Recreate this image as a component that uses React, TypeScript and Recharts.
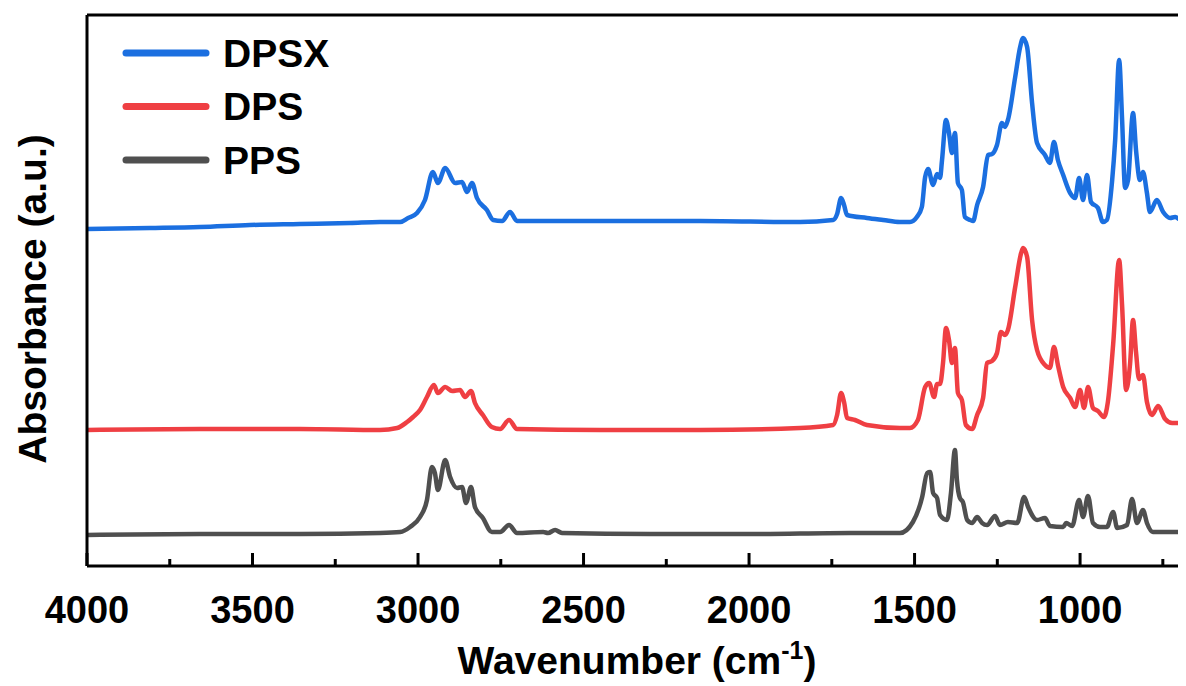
import React from 'react';
import { LineChart, Line, XAxis, YAxis, Legend, ReferenceLine } from 'recharts';

// Wavenumber axis ticks (cm-1)
const wavenumberTicks = [4000, 3750, 3500, 3250, 3000, 2750, 2500, 2250, 2000, 1750, 1500, 1250, 1000, 750];
const majorTicks = [4000, 3500, 3000, 2500, 2000, 1500, 1000];
const seriesNames = ['DPSX', 'DPS', 'PPS'];
const seriesColors = ['#1b6fe0', '#ef3f43', '#4f4f4f'];

// [wavenumber, absorbance (a.u., offset-stacked)]
const dpsx: [number, number][] = [
  [4000, 3.37], [3810, 3.38], [3659, 3.39], [3508, 3.41], [3357, 3.42], [3205, 3.43], [3115, 3.44], [3054, 3.44],
  [3030, 3.48], [3003, 3.53], [2979, 3.66], [2955, 3.94], [2940, 3.83], [2918, 3.98], [2888, 3.83], [2867, 3.84],
  [2852, 3.74], [2837, 3.83], [2822, 3.68], [2792, 3.56], [2773, 3.46], [2746, 3.45], [2722, 3.54], [2701, 3.45],
  [2571, 3.45], [2390, 3.45], [2148, 3.45], [1846, 3.44], [1746, 3.46], [1734, 3.52], [1722, 3.68], [1713, 3.61],
  [1704, 3.51], [1644, 3.48], [1595, 3.46], [1544, 3.44], [1514, 3.44], [1493, 3.49], [1478, 3.59], [1468, 3.89],
  [1459, 3.97], [1444, 3.81], [1432, 3.92], [1423, 3.88], [1417, 4.06], [1405, 4.46], [1396, 4.33], [1387, 4.13],
  [1378, 4.33], [1369, 3.83], [1357, 3.76], [1348, 3.49], [1332, 3.46], [1323, 3.45], [1311, 3.61], [1293, 3.79],
  [1278, 4.11], [1266, 4.12], [1251, 4.21], [1236, 4.43], [1227, 4.39], [1218, 4.46], [1196, 4.89], [1181, 5.19],
  [1172, 5.28], [1160, 5.19], [1145, 4.63], [1130, 4.23], [1106, 4.11], [1091, 4.03], [1079, 4.24], [1067, 4.06],
  [1051, 3.91], [1030, 3.73], [1015, 3.68], [1003, 3.88], [991, 3.66], [979, 3.91], [967, 3.64], [946, 3.58],
  [931, 3.44], [919, 3.46], [903, 3.86], [894, 4.26], [882, 5.06], [873, 4.46], [864, 3.78], [855, 3.86],
  [840, 4.53], [831, 4.16], [819, 3.86], [810, 3.94], [798, 3.73], [789, 3.54], [768, 3.66], [749, 3.54],
  [728, 3.48], [713, 3.49], [692, 3.45], [680, 3.44],
];

const dps: [number, number][] = [
  [4000, 1.36], [3659, 1.37], [3357, 1.37], [3115, 1.36], [3063, 1.38], [3033, 1.44], [3015, 1.49], [2994, 1.56],
  [2973, 1.69], [2952, 1.81], [2940, 1.73], [2918, 1.79], [2897, 1.75], [2873, 1.76], [2858, 1.69], [2840, 1.75],
  [2828, 1.63], [2804, 1.51], [2777, 1.39], [2752, 1.37], [2725, 1.46], [2701, 1.37], [2450, 1.36], [2148, 1.36],
  [1846, 1.38], [1746, 1.41], [1734, 1.51], [1722, 1.73], [1713, 1.64], [1704, 1.48], [1680, 1.46], [1644, 1.41],
  [1544, 1.38], [1514, 1.38], [1490, 1.46], [1468, 1.79], [1456, 1.83], [1441, 1.69], [1432, 1.82], [1423, 1.82],
  [1414, 2.03], [1405, 2.38], [1396, 2.26], [1387, 2.03], [1378, 2.18], [1369, 1.73], [1357, 1.66], [1345, 1.41],
  [1326, 1.37], [1311, 1.51], [1293, 1.68], [1281, 2.03], [1266, 2.05], [1251, 2.13], [1239, 2.34], [1227, 2.31],
  [1218, 2.36], [1196, 2.79], [1178, 3.13], [1172, 3.18], [1160, 3.09], [1145, 2.46], [1130, 2.16], [1106, 2.01],
  [1091, 1.98], [1079, 2.19], [1067, 2.01], [1051, 1.79], [1030, 1.68], [1015, 1.59], [1000, 1.76], [988, 1.58],
  [976, 1.79], [961, 1.58], [946, 1.55], [928, 1.49], [916, 1.64], [900, 2.22], [882, 3.06], [873, 2.6],
  [861, 1.76], [849, 2.02], [840, 2.46], [831, 2.14], [822, 1.87], [810, 1.91], [798, 1.64], [783, 1.51],
  [764, 1.6], [743, 1.47], [722, 1.43], [707, 1.43], [680, 1.39],
];

const pps: [number, number][] = [
  [4000, 0.31], [3659, 0.32], [3357, 0.32], [3115, 0.33], [3054, 0.34], [3024, 0.39], [2994, 0.49], [2973, 0.66],
  [2958, 0.99], [2949, 0.93], [2940, 0.76], [2918, 1.06], [2903, 0.89], [2882, 0.78], [2867, 0.79], [2855, 0.63],
  [2840, 0.79], [2828, 0.59], [2804, 0.48], [2777, 0.34], [2752, 0.34], [2725, 0.41], [2701, 0.33], [2622, 0.34],
  [2607, 0.33], [2586, 0.36], [2565, 0.33], [2299, 0.32], [1997, 0.32], [1695, 0.33], [1544, 0.33], [1505, 0.44],
  [1477, 0.69], [1462, 0.93], [1453, 0.94], [1444, 0.73], [1432, 0.68], [1423, 0.51], [1402, 0.46], [1390, 0.73],
  [1378, 1.16], [1372, 0.86], [1363, 0.68], [1354, 0.64], [1341, 0.46], [1326, 0.43], [1311, 0.49], [1296, 0.43],
  [1281, 0.41], [1257, 0.5], [1242, 0.41], [1218, 0.44], [1190, 0.43], [1169, 0.69], [1157, 0.59], [1130, 0.46],
  [1106, 0.48], [1091, 0.4], [1051, 0.39], [1042, 0.43], [1024, 0.4], [1003, 0.66], [991, 0.49], [976, 0.7],
  [961, 0.43], [940, 0.39], [919, 0.39], [900, 0.54], [888, 0.38], [858, 0.41], [843, 0.67], [828, 0.43],
  [810, 0.56], [798, 0.43], [780, 0.34], [680, 0.34],
];

const yMax = 5.51;
const seriesData = [dpsx, dps, pps].map((pts) => pts.map(([w, a]) => ({ w, a })));

const FONT = '"Liberation Sans", Arial, Helvetica, sans-serif';

const XTick = (props: any) => {
  const { x, y, payload } = props;
  const major = majorTicks.includes(payload.value);
  return (
    <g>
      <line x1={x} x2={x} y1={y} y2={y - (major ? 13 : 7)} stroke="#000" strokeWidth={3} />
      {major && (
        <text x={x} y={y + 57} textAnchor="middle" fontFamily={FONT} fontWeight="bold" fontSize={38} fill="#000">
          {payload.value}
        </text>
      )}
    </g>
  );
};

const XLabel = () => (
  <text x={629} y={666} textAnchor="middle" fontFamily={FONT} fontWeight="bold" fontSize={39} fill="#000">
    Wavenumber (cm
    <tspan dy={-15} fontSize={25}>-1</tspan>
    <tspan dy={15}>)</tspan>
  </text>
);

const YLabel = () => (
  <text
    x={38}
    y={291}
    transform="rotate(-90, 38, 291)"
    textAnchor="middle"
    fontFamily={FONT}
    fontWeight="bold"
    fontSize={39}
    fill="#000"
  >
    Absorbance (a.u.)
  </text>
);

const renderLegend = () => (
  <svg width={260} height={160} style={{ display: 'block' }}>
    {seriesNames.map((name, i) => {
      const cy = 25 + i * 53.5;
      return (
        <g key={name}>
          <line x1={18} x2={98} y1={cy} y2={cy} stroke={seriesColors[i]} strokeWidth={7} strokeLinecap="round" />
          <text x={115} y={cy} dominantBaseline="central" fontFamily={FONT} fontWeight="bold" fontSize={39} fill="#000">
            {name}
          </text>
        </g>
      );
    })}
  </svg>
);

export default function App() {
  return (
    <div style={{ width: 1178, height: 678, overflow: 'hidden' }}>
      <LineChart width={1178} height={678} margin={{ top: 7, right: 0, bottom: 8, left: 0 }}>
        <XAxis
          xAxisId="b"
          type="number"
          dataKey="w"
          domain={[680, 4000]}
          reversed
          allowDataOverflow
          ticks={wavenumberTicks}
          interval={0}
          tickSize={0}
          tickMargin={0}
          tickLine={false}
          tick={<XTick />}
          axisLine={{ stroke: '#000', strokeWidth: 3 }}
          height={112}
          label={<XLabel />}
        />
        <YAxis
          type="number"
          domain={[0, yMax]}
          allowDataOverflow
          width={79}
          tick={false}
          tickLine={false}
          axisLine={{ stroke: '#000', strokeWidth: 3 }}
          label={<YLabel />}
        />
        <ReferenceLine xAxisId="b" y={yMax} stroke="#000" strokeWidth={3} ifOverflow="visible" />
        <Legend
          layout="vertical"
          align="center"
          verticalAlign="middle"
          wrapperStyle={{ position: 'absolute', left: 100, top: 20, width: 260, height: 160 }}
          content={renderLegend}
        />
        {seriesNames.map((name, i) => (
          <Line
            key={name}
            xAxisId="b"
            data={seriesData[i]}
            dataKey="a"
            name={name}
            type="monotone"
            stroke={seriesColors[i]}
            strokeWidth={4.5}
            dot={false}
            activeDot={false}
            isAnimationActive={false}
          />
        ))}
      </LineChart>
    </div>
  );
}
